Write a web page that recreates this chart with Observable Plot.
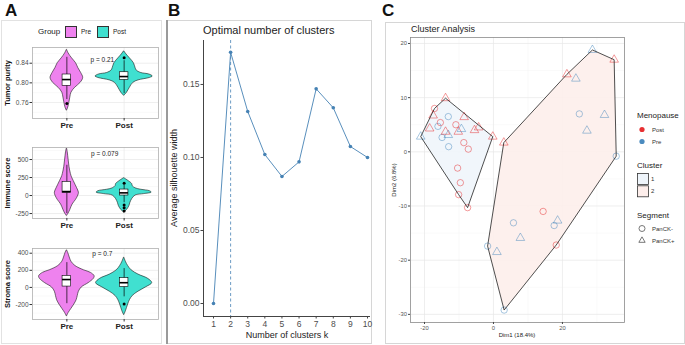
<!DOCTYPE html>
<html><head><meta charset="utf-8">
<script src="https://cdn.jsdelivr.net/npm/d3@7"></script>
<script src="https://cdn.jsdelivr.net/npm/@observablehq/plot@0.6"></script>
<style>
body{margin:0;background:#fff;font-family:"Liberation Sans",Arial,sans-serif}
#fig{position:relative;width:685px;height:345px;overflow:hidden;background:#fff}
#fig svg{position:absolute;overflow:visible}
.t{position:absolute;white-space:nowrap;line-height:1}
</style></head><body><div id="fig"></div>
<script>
// ---------------- DATA ----------------
const groups = ["Pre", "Post"];
const groupFill = ["#EE82EE", "#40E0D0"];

// Panel A: Tumor purity
const tumorTicks = [0.76, 0.80, 0.84];
const tumorMinor = [0.74, 0.78, 0.82, 0.86];
const tumorDomain = [0.7274, 0.872];
const tumorPreViolin = [[0.744,0.004],[0.75,0.025],[0.76,0.044],[0.77,0.06],[0.78,0.08],[0.79,0.145],[0.80,0.24],[0.81,0.285],[0.82,0.25],[0.83,0.2],[0.84,0.16],[0.85,0.09],[0.86,0.03],[0.867,0.003]];
const tumorPostViolin = [[0.774,0.004],[0.78,0.05],[0.79,0.10],[0.80,0.16],[0.805,0.25],[0.81,0.45],[0.813,0.5],[0.817,0.44],[0.82,0.3],[0.825,0.22],[0.83,0.2],[0.84,0.17],[0.85,0.1],[0.858,0.04],[0.864,0.004]];
const tumorBox = [[0.766,0.794,0.8067,0.817,0.852],[0.778,0.806,0.8128,0.8216,0.845]];
const tumorOutliers = [[1,0.758],[2,0.851]];
const tumorP = "p = 0.21";

// Panel A: Immune score
const immuneTicks = [-250, 0, 250, 500];
const immuneMinor = [-125, 125, 375, 625];
const immuneDomain = [-319, 667];
const immunePreViolin = [[-280,0.004],[-250,0.03],[-200,0.06],[-125,0.1],[-60,0.16],[0,0.2],[40,0.21],[100,0.18],[150,0.15],[200,0.12],[250,0.09],[300,0.07],[400,0.045],[500,0.03],[600,0.015],[650,0.003]];
const immunePostViolin = [[-232,0.004],[-200,0.05],[-150,0.09],[-100,0.11],[-50,0.14],[0,0.2],[20,0.35],[40,0.48],[60,0.45],[80,0.3],[100,0.2],[130,0.15],[160,0.14],[200,0.08],[240,0.004]];
const immuneBox = [[-250,37,55,190,420],[-100,0,37,83,140]];
const immuneOutliers = [[2,170],[2,-130],[2,-170],[2,-215]];
const immuneP = "p = 0.079";

// Panel A: Stroma score
const stromaTicks = [-200, 0, 200, 400];
const stromaMinor = [-300, -100, 100, 300];
const stromaDomain = [-375, 455];
const stromaPreViolin = [[-335,0.004],[-300,0.03],[-250,0.08],[-200,0.13],[-150,0.17],[-100,0.19],[-50,0.21],[0,0.26],[50,0.38],[100,0.47],[130,0.485],[170,0.42],[200,0.3],[250,0.15],[300,0.08],[350,0.05],[400,0.025],[433,0.003]];
const stromaPostViolin = [[-320,0.004],[-280,0.03],[-200,0.07],[-150,0.1],[-100,0.15],[-50,0.25],[0,0.38],[50,0.49],[100,0.42],[150,0.25],[200,0.13],[250,0.07],[300,0.03],[348,0.003]];
const stromaBox = [[-190,10,92,135,290],[-110,4,55,109,220]];
const stromaOutliers = [[2,-195]];
const stromaP = "p = 0.7";

// Panel B: silhouette
const kValues = [1,2,3,4,5,6,7,8,9,10];
const silhouette = [0.0, 0.172, 0.1315, 0.102, 0.087, 0.097, 0.147, 0.134, 0.1075, 0.100];
const optimalK = [2];
const silTicks = [0, 0.05, 0.10, 0.15];
const silDomainX = [0.4155, 10.175];
const silDomainY = [-0.0089, 0.1801];

// Panel C: cluster analysis (PCA)
const dim1 = [-13.9,-17.1,-17.5,-18.5,-16.1,-15.4,-13.1,-14.9,-13.1,-13.9,-13.0,-10.9,-10.2,-9.3,-8.5,-8.6,-7.3,-5.5,-4.3,-0.2,-21.1,-10.4,-9.6,-10.1,-7.5,
              3.0,21.3,23.9,28.7,35.0,24.9,32.2,27.1,35.6,14.4,5.8,17.6,18.6,7.8,-1.7,1.0,18.2,3.1];
const dim2 = [9.9,8.0,6.7,4.3,4.7,5.4,6.5,2.65,3.1,3.7,0.95,5.0,3.7,4.2,6.4,1.7,0.5,4.0,4.5,2.8,2.8,-3.0,-5.7,-7.9,-10.3,
              1.7,14.3,13.5,18.8,17.0,7.0,6.8,3.9,-0.8,-11.0,-13.1,-13.6,-12.7,-15.9,-17.4,-18.5,-17.2,-29.2];
const menopause = ["Post","Post","Post","Post","Pre","Post","Pre","Pre","Pre","Post","Pre","Post","Post","Pre","Post","Post","Post","Post","Post","Post","Pre","Post","Post","Post","Post",
                   "Post","Post","Pre","Pre","Post","Pre","Pre","Pre","Pre","Post","Pre","Pre","Pre","Pre","Pre","Pre","Post","Pre"];
const segment = ["PanCK+","PanCK-","PanCK+","PanCK+","PanCK-","PanCK-","PanCK-","PanCK-","PanCK+","PanCK+","PanCK-","PanCK-","PanCK+","PanCK+","PanCK+","PanCK-","PanCK-","PanCK+","PanCK+","PanCK+","PanCK+","PanCK-","PanCK-","PanCK-","PanCK-",
                 "PanCK+","PanCK+","PanCK+","PanCK+","PanCK+","PanCK-","PanCK+","PanCK+","PanCK-","PanCK-","PanCK-","PanCK-","PanCK+","PanCK+","PanCK-","PanCK+","PanCK-","PanCK-"];
const cluster = [1,1,1,1,1,1,1,1,1,1,1,1,1,1,1,1,1,1,1,1,1,1,1,1,1, 2,2,2,2,2,2,2,2,2,2,2,2,2,2,2,2,2,2];
const menoLevels = ["Post","Pre"];
const menoColors = ["#E41A1C","#377EB8"];
const clusterLevels = ["1","2"];
const clusterFill = ["#EFF5FB","#FDEEEB"];
const segmentLevels = ["PanCK-","PanCK+"];
const dimXTicks = [-20, 0, 20];
const dimXMinor = [-10, 10, 30];
const dimYTicks = [-30, -20, -10, 0, 10, 20];
const dimYMinor = [-25, -15, -5, 5, 15];
const dimDomainX = [-24.06, 38];
const dimDomainY = [-31.5, 21.1];

// ---------------- HELPERS ----------------
const fig = document.getElementById("fig");
const FONT = "Liberation Sans, Arial, sans-serif";
function txt(s, x, y, o = {}) {
  const {size = 8, weight = "normal", color = "#222", anchor = "start", rotate = 0} = o;
  const d = document.createElement("div");
  d.className = "t";
  d.textContent = s;
  d.style.left = x + "px"; d.style.top = y + "px";
  d.style.fontSize = size + "px"; d.style.fontWeight = weight; d.style.color = color;
  const tx = anchor === "middle" ? "-50%" : anchor === "end" ? "-100%" : "0";
  d.style.transform = `translate(${tx},-50%)` + (rotate ? ` rotate(${rotate}deg)` : "");
  fig.appendChild(d);
}
function place(svg, left, top) { svg.style.left = left + "px"; svg.style.top = top + "px"; fig.appendChild(svg); }
function box(x, y, w, h, stroke) {
  const d = document.createElement("div");
  d.style.cssText = `position:absolute;left:${x}px;top:${y}px;width:${w}px;height:${h}px;border:1px solid ${stroke};box-sizing:border-box`;
  fig.appendChild(d);
}

// panel borders
box(1, 20, 161, 324, "#e2e2e2");
box(166, 20, 206, 324, "#d6d6d6");
box(385, 22, 300, 322, "#d6d6d6");
(() => { const d = document.createElement("div"); d.style.cssText = "position:absolute;left:166px;top:20px;width:1.5px;height:324px;background:#9a9a9a"; fig.appendChild(d); })();

// panel letters
txt("A", 5, 10, {size: 17, weight: "bold", color: "#111"});
txt("B", 168, 10, {size: 17, weight: "bold", color: "#111"});
txt("C", 382, 10, {size: 17, weight: "bold", color: "#111"});

// ---------------- PANEL A ----------------
function violinPlot({violins, boxes, outliers, ticks, minor, domain, fmt, pText, pX, pDy}) {
  const marks = [
    Plot.ruleY(minor, {stroke: "#f3f3f3", strokeWidth: 0.5}),
    Plot.ruleY(ticks, {stroke: "#e6e6e6", strokeWidth: 0.7}),
    Plot.ruleX([1, 2], {stroke: "#e6e6e6", strokeWidth: 0.7})
  ];
  violins.forEach((v, i) => {
    const c = i + 1;
    marks.push(Plot.areaX(v, {y: d => d[0], x1: d => c - d[1], x2: d => c + d[1], fill: groupFill[i], stroke: "#1a1a1a", strokeWidth: 0.6, curve: "catmull-rom"}));
  });
  marks.push(Plot.ruleX(boxes, {x: (d, i) => i + 1, y1: d => d[0], y2: d => d[4], stroke: "#000", strokeWidth: 0.7}));
  marks.push(Plot.rect(boxes, {x1: (d, i) => i + 1 - 0.075, x2: (d, i) => i + 1 + 0.075, y1: d => d[1], y2: d => d[3], fill: "white", stroke: "#000", strokeWidth: 0.6}));
  marks.push(Plot.ruleY(boxes, {y: d => d[2], x1: (d, i) => i + 1 - 0.075, x2: (d, i) => i + 1 + 0.075, stroke: "#000", strokeWidth: 1.6}));
  marks.push(Plot.dot(outliers, {x: d => d[0], y: d => d[1], r: 1.5, fill: "#000"}));
  marks.push(Plot.text([pText], {x: pX, frameAnchor: "top", dy: pDy, text: d => d, fontSize: 6.5, fill: "#222"}));
  marks.push(Plot.frame({stroke: "#b0b0b0", strokeWidth: 0.8}));
  marks.push(Plot.axisY({ticks, tickFormat: fmt, tickSize: 2.5, tickPadding: 1.5, label: null, fontSize: 6.5, fill: "#4d4d4d", stroke: "#333"}));
  marks.push(Plot.axisX({ticks: [1, 2], tickFormat: d => groups[d - 1], tickSize: 2.5, tickPadding: 1.5, label: null, fontSize: 8, fontWeight: "bold", fill: "#222", stroke: "#333"}));
  return Plot.plot({
    width: 162, height: 96, marginLeft: 32, marginRight: 4, marginTop: 7, marginBottom: 18,
    x: {domain: [0.4, 2.6]}, y: {domain},
    style: {fontFamily: FONT, fontSize: "6.5px", color: "#333", background: "transparent", overflow: "visible"},
    marks
  });
}
place(violinPlot({violins: [tumorPreViolin, tumorPostViolin], boxes: tumorBox, outliers: tumorOutliers, ticks: tumorTicks, minor: tumorMinor, domain: tumorDomain, fmt: d3.format(".2f"), pText: tumorP, pX: 1.62, pDy: 10}), 0, 40);
place(violinPlot({violins: [immunePreViolin, immunePostViolin], boxes: immuneBox, outliers: immuneOutliers, ticks: immuneTicks, minor: immuneMinor, domain: immuneDomain, fmt: d => String(d), pText: immuneP, pX: 1.66, pDy: 3.5}), 0, 140);
place(violinPlot({violins: [stromaPreViolin, stromaPostViolin], boxes: stromaBox, outliers: stromaOutliers, ticks: stromaTicks, minor: stromaMinor, domain: stromaDomain, fmt: d => String(d), pText: stromaP, pX: 1.62, pDy: 2.5}), 0, 241);
txt("Tumor purity", 8, 82.5, {size: 7.5, weight: "bold", anchor: "middle", rotate: -90, color: "#111"});
txt("Immune score", 8, 183, {size: 7.5, weight: "bold", anchor: "middle", rotate: -90, color: "#111"});
txt("Stroma score", 8, 284, {size: 7.5, weight: "bold", anchor: "middle", rotate: -90, color: "#111"});

// Group legend (A)
txt("Group", 38, 32, {size: 8, color: "#222"});
groups.forEach((g, i) => {
  const sx = [65, 97][i];
  const d = document.createElement("div");
  d.style.cssText = `position:absolute;left:${sx}px;top:25.5px;width:12px;height:12.5px;background:${groupFill[i]};border:0.8px solid #333;box-sizing:border-box`;
  fig.appendChild(d);
  txt(g, sx + 16, 32, {size: 6.5, color: "#222"});
});

// ---------------- PANEL B ----------------
const silData = kValues.map((k, i) => ({k, s: silhouette[i]}));
const plotB = Plot.plot({
  width: 212, height: 345, marginLeft: 43, marginRight: 2, marginTop: 40, marginBottom: 29,
  x: {domain: silDomainX}, y: {domain: silDomainY},
  style: {fontFamily: FONT, fontSize: "8.5px", color: "#333", background: "transparent", overflow: "visible"},
  marks: [
    Plot.ruleX(optimalK, {stroke: "#4682B4", strokeWidth: 0.8, strokeDasharray: "3,2.5"}),
    Plot.line(silData, {x: "k", y: "s", stroke: "#4682B4", strokeWidth: 0.9}),
    Plot.dot(silData, {x: "k", y: "s", r: 1.8, fill: "#4682B4"}),
    Plot.ruleX([silDomainX[0]], {stroke: "#444", strokeWidth: 1}),
    Plot.ruleY([silDomainY[0]], {stroke: "#444", strokeWidth: 1}),
    Plot.axisY({ticks: silTicks, tickFormat: d3.format(".2f"), tickSize: 2.5, tickPadding: 1.5, label: null, fontSize: 8.5, fill: "#4d4d4d", stroke: "#444"}),
    Plot.axisX({ticks: kValues, tickFormat: d => String(d), tickSize: 2.5, tickPadding: 1.5, label: null, fontSize: 8.5, fill: "#4d4d4d", stroke: "#444"})
  ]
});
place(plotB, 160, 0);
txt("Optimal number of clusters", 203, 30, {size: 11, color: "#222"});
txt("Number of clusters k", 287, 335, {size: 9, anchor: "middle", color: "#222"});
txt("Average silhouette width", 174, 178, {size: 9, anchor: "middle", rotate: -90, color: "#222"});

// ---------------- PANEL C ----------------
const pts = dim1.map((x, i) => ({x, y: dim2[i], m: menopause[i], s: segment[i], c: cluster[i]}));
const plotC = Plot.plot({
  width: 252, height: 345, marginLeft: 35, marginRight: 3, marginTop: 37, marginBottom: 23,
  x: {domain: dimDomainX}, y: {domain: dimDomainY},
  color: {domain: menoLevels, range: menoColors},
  symbol: {domain: segmentLevels, range: ["circle", "triangle"]},
  style: {fontFamily: FONT, fontSize: "5.8px", color: "#333", background: "transparent", overflow: "visible"},
  marks: [
    Plot.ruleX(dimXMinor, {stroke: "#f4f4f4", strokeWidth: 0.5}),
    Plot.ruleY(dimYMinor, {stroke: "#f4f4f4", strokeWidth: 0.5}),
    Plot.ruleX(dimXTicks, {stroke: "#e6e6e6", strokeWidth: 0.7}),
    Plot.ruleY(dimYTicks, {stroke: "#e6e6e6", strokeWidth: 0.7}),
    ...clusterLevels.map((cl, j) => Plot.hull(pts.filter(d => String(d.c) === cl), {x: "x", y: "y", fill: clusterFill[j], fillOpacity: 0.9, stroke: "none"})),
    Plot.dot(pts, {x: "x", y: "y", stroke: "m", symbol: "s", r: 3.2, strokeWidth: 0.8, strokeOpacity: 0.55}),
    ...clusterLevels.map((cl) => Plot.hull(pts.filter(d => String(d.c) === cl), {x: "x", y: "y", stroke: "#222", strokeWidth: 0.8})),
    Plot.frame({stroke: "#8a8a8a", strokeWidth: 0.8}),
    Plot.axisY({ticks: dimYTicks, tickFormat: d => String(d), tickSize: 2, tickPadding: 1.5, label: null, fontSize: 5.8, fill: "#555", stroke: "#444"}),
    Plot.axisX({ticks: dimXTicks, tickFormat: d => String(d), tickSize: 2, tickPadding: 1.5, label: null, fontSize: 5.8, fill: "#555", stroke: "#444"})
  ]
});
place(plotC, 375, 0);
txt("Cluster Analysis", 411, 29, {size: 9, color: "#222"});
txt("Dim1 (18.4%)", 517, 335, {size: 6, anchor: "middle", color: "#222"});
txt("Dim2 (6.8%)", 394, 179.5, {size: 6, anchor: "middle", rotate: -90, color: "#222"});

// Legend C
const lg = d3.create("svg").attr("width", 50).attr("height", 140).style("left", "634px").style("top", "110px");
menoLevels.forEach((m, i) => {
  lg.append("circle").attr("cx", 8).attr("cy", 19.5 + i * 12).attr("r", 2.6).attr("fill", menoColors[i]).attr("fill-opacity", 0.9);
});
clusterLevels.forEach((c, i) => {
  lg.append("rect").attr("x", 3.5).attr("y", 63.5 + i * 12.3).attr("width", 11).attr("height", 11).attr("fill", clusterFill[i]).attr("stroke", "#333").attr("stroke-width", 0.8);
});
lg.append("path").attr("d", d3.symbol(d3.symbolCircle, Math.PI * 3 * 3)()).attr("transform", "translate(8,118.5)").attr("fill", "none").attr("stroke", "#555").attr("stroke-width", 0.8);
lg.append("path").attr("d", d3.symbol(d3.symbolTriangle2, Math.PI * 3 * 3)()).attr("transform", "translate(8,130.5)").attr("fill", "none").attr("stroke", "#555").attr("stroke-width", 0.8);
fig.appendChild(lg.node());
txt("Menopause", 637, 116, {size: 8, color: "#222"});
menoLevels.forEach((m, i) => txt(m, 652, 129.5 + i * 12, {size: 6, color: "#333"}));
txt("Cluster", 637, 166, {size: 8, color: "#222"});
clusterLevels.forEach((c, i) => txt(c, 651, 179 + i * 12.3, {size: 6, color: "#333"}));
txt("Segment", 637, 216, {size: 8, color: "#222"});
segmentLevels.forEach((s, i) => txt(s, 652, 228.5 + i * 12, {size: 6, color: "#333"}));
</script></body></html>
